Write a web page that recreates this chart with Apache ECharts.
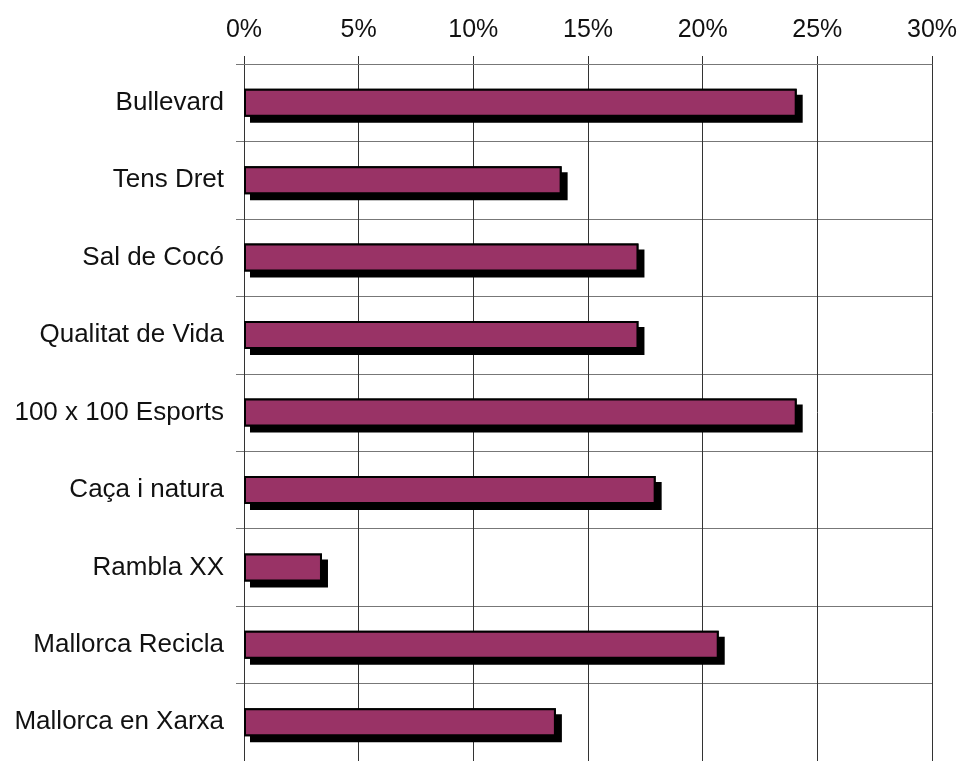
<!DOCTYPE html>
<html>
<head>
<meta charset="utf-8">
<script src="https://cdn.jsdelivr.net/npm/echarts@6/dist/echarts.min.js"></script>
<style>
  html, body { margin: 0; padding: 0; background: #fff; }
  #chart { width: 962px; height: 761px; }
</style>
</head>
<body>
<div id="chart"></div>
<script>
const categories = [
  "Bullevard",
  "Tens Dret",
  "Sal de Cocó",
  "Qualitat de Vida",
  "100 x 100 Esports",
  "Caça i natura",
  "Rambla XX",
  "Mallorca Recicla",
  "Mallorca en Xarxa"
];
const values = [24.1, 13.85, 17.2, 17.2, 24.1, 17.95, 3.4, 20.7, 13.6];
const tickMin = 0;
const tickMax = 30;
const tickStep = 5;

const chart = echarts.init(document.getElementById("chart"));

const option = {
  animation: false,
  textStyle: { fontFamily: "Liberation Sans, Arial, sans-serif" },
  grid: { left: 244, right: 30, top: 64, bottom: -6, containLabel: false },
  xAxis: {
    type: "value",
    position: "top",
    min: tickMin,
    max: tickMax,
    interval: tickStep,
    axisLine: { show: true, lineStyle: { color: "#777", width: 1 } },
    axisTick: { show: true, length: 8, lineStyle: { color: "#333" } },
    axisLabel: {
      formatter: "{value}%",
      color: "#111",
      fontSize: 25,
      margin: 21
    },
    splitLine: { show: true, lineStyle: { color: "#333", width: 1 } }
  },
  yAxis: {
    type: "category",
    inverse: true,
    data: categories,
    axisLine: { show: true, lineStyle: { color: "#333", width: 1 } },
    axisTick: { show: true, length: 8, lineStyle: { color: "#777" } },
    axisLabel: { color: "#111", fontSize: 26, margin: 20 },
    splitLine: { show: true, lineStyle: { color: "#777", width: 1 } }
  },
  series: [
    {
      // black drop shadow behind the bars
      type: "bar",
      data: values,
      barWidth: 28,
      barGap: "-100%",
      z: 1,
      silent: true,
      itemStyle: {
        color: "#000",
        borderColor: "#000",
        borderWidth: 2,
        shadowColor: "#000",
        shadowBlur: 0,
        shadowOffsetX: 6,
        shadowOffsetY: 6
      }
    },
    {
      type: "bar",
      data: values,
      barWidth: 28,
      barGap: "-100%",
      z: 2,
      itemStyle: {
        color: "#993366",
        borderColor: "#000",
        borderWidth: 2
      }
    }
  ]
};

chart.setOption(option);

window.addEventListener("resize", () => chart.resize());
</script>
</body>
</html>
